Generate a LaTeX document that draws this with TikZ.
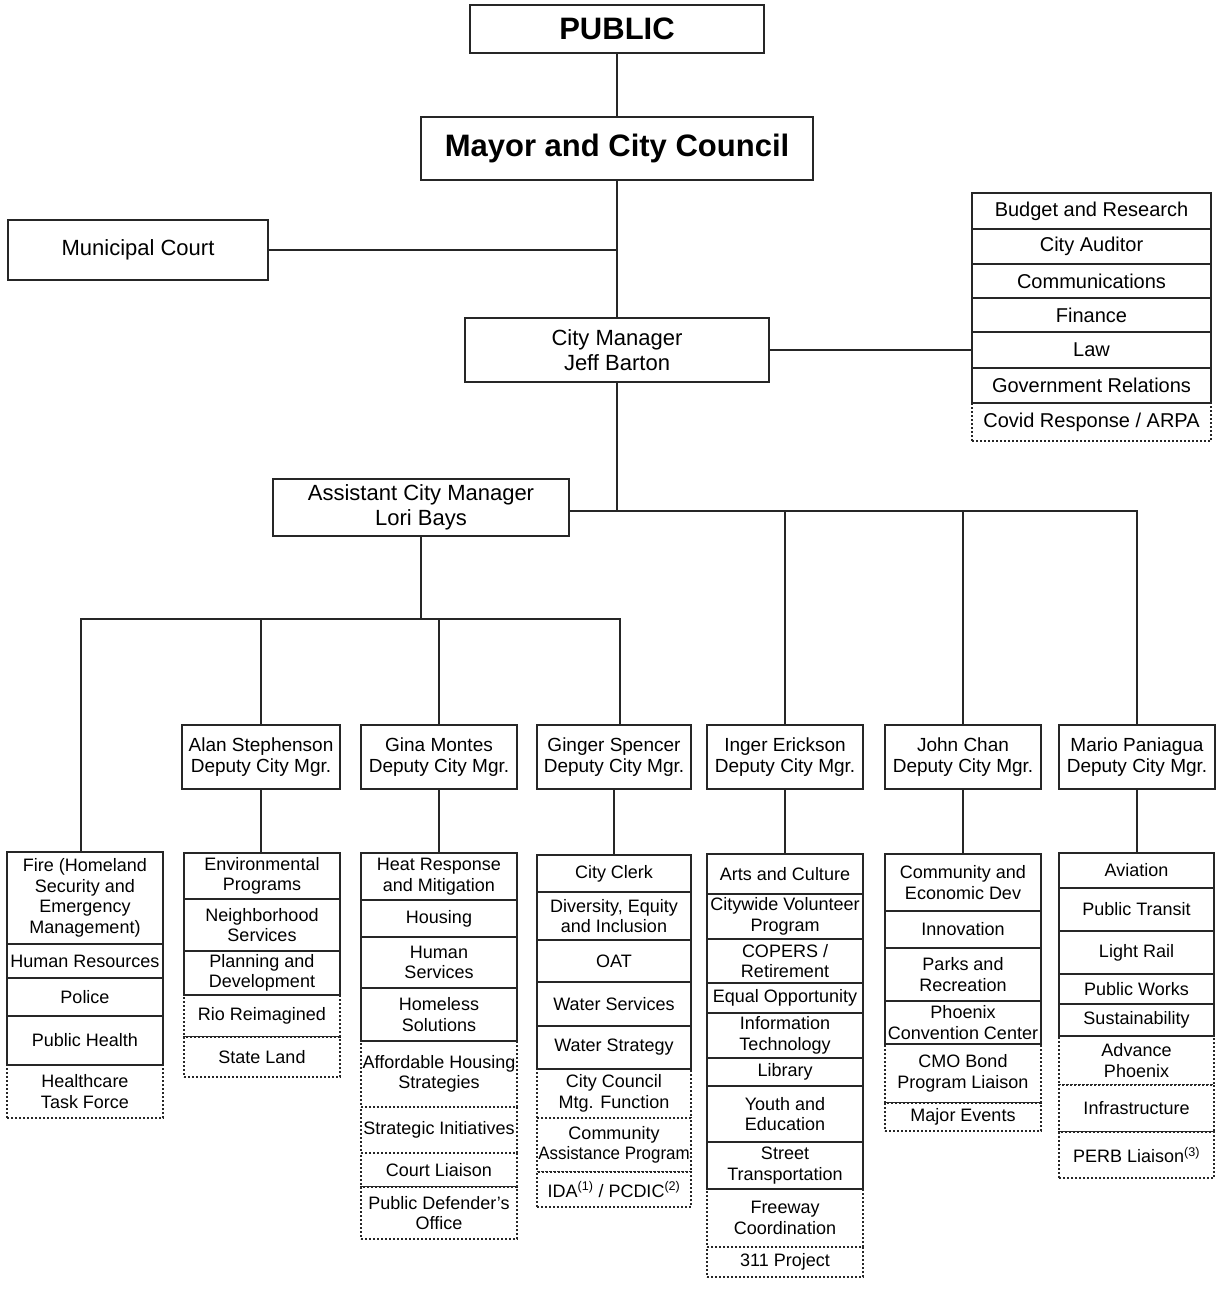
\documentclass[tikz,border=0pt]{standalone}
\usepackage{fontspec}
\setmainfont{Liberation Sans}
\usepackage{graphicx}
\newcommand\bx[7]{%
 \pgfmathsetmacro\bxcx{(#3+#5)/2}%
 \pgfmathsetmacro\bxcy{(#4+#6)/2}%
 \pgfmathsetmacro\bxw{#5-#3}%
 \pgfmathsetmacro\bxh{#6-#4}%
 \node[#1, minimum width=\bxw pt, minimum height=\bxh pt] (#2) at (\bxcx,\bxcy) {#7};}
\tikzset{
 box/.style={draw=black!85, line width=1.8pt, inner sep=0pt, align=center, fill=white,
   font=\fontsize{18}{20.5}\selectfont},
 dbox/.style={box, dash pattern=on 1.8pt off 2.2pt},
 topbox/.style={box, font=\fontsize{31}{36}\selectfont\bfseries},
 midbox/.style={box, font=\fontsize{22}{24.5}\selectfont},
 rbox/.style={box, font=\fontsize{20}{22}\selectfont},
 rdbox/.style={dbox, font=\fontsize{20}{22}\selectfont},
 dep/.style={box, font=\fontsize{19}{21}\selectfont},
 conn/.style={draw=black!85, line width=1.8pt}
}
\begin{document}
\begin{tikzpicture}[x=1pt,y=-1pt]
\useasboundingbox[fill=white] (0,0) rectangle (1225,1289);
% top
\bx{topbox}{pub}{470}{5}{764}{53}{PUBLIC}
\bx{topbox}{mayor}{421}{117}{813}{180}{Mayor and City Council}
\bx{midbox}{court}{8}{220}{268}{280}{Municipal Court}
\bx{midbox}{cm}{465}{318}{769}{382}{City Manager\\Jeff Barton}
\bx{midbox}{acm}{273}{479}{569}{536}{Assistant City Manager\\Lori Bays}
% right stack
\bx{rdbox}{covid}{972}{403}{1211}{441}{Covid Response / ARPA}
\bx{rbox}{budget}{972}{193}{1211}{229}{Budget and Research}
\bx{rbox}{auditor}{972}{229}{1211}{264}{City Auditor}
\bx{rbox}{comm}{972}{264}{1211}{298}{Communications}
\bx{rbox}{finance}{972}{298}{1211}{332}{Finance}
\bx{rbox}{law}{972}{332}{1211}{368}{Law}
\bx{rbox}{govrel}{972}{368}{1211}{403}{Government Relations}
% deputies
\bx{dep}{alan}{182}{725}{340}{789}{Alan Stephenson\\Deputy City Mgr.}
\bx{dep}{gina}{361}{725}{517}{789}{Gina Montes\\Deputy City Mgr.}
\bx{dep}{ginger}{537}{725}{691}{789}{Ginger Spencer\\Deputy City Mgr.}
\bx{dep}{inger}{707}{725}{863}{789}{Inger Erickson\\Deputy City Mgr.}
\bx{dep}{john}{885}{725}{1041}{789}{John Chan\\Deputy City Mgr.}
\bx{dep}{mario}{1059}{725}{1215}{789}{Mario Paniagua\\Deputy City Mgr.}
% fire column
\bx{dbox}{htf}{7}{1065}{163}{1118}{Healthcare\\Task Force}
\bx{box}{fire}{7}{852}{163}{944}{Fire (Homeland\\Security and\\Emergency\\Management)}
\bx{box}{hr}{7}{944}{163}{978}{Human Resources}
\bx{box}{police}{7}{978}{163}{1016}{Police}
\bx{box}{ph}{7}{1016}{163}{1065}{Public Health}
% alan column
\bx{dbox}{rio}{184}{995}{340}{1037}{Rio Reimagined}
\bx{dbox}{state}{184}{1037}{340}{1077}{State Land}
\bx{box}{env}{184}{853}{340}{899}{Environmental\\Programs}
\bx{box}{nbhd}{184}{899}{340}{951}{Neighborhood\\Services}
\bx{box}{plan}{184}{951}{340}{995}{Planning and\\Development}
% gina column
\bx{dbox}{afford}{361}{1041}{517}{1107}{Affordable Housing\\Strategies}
\bx{dbox}{strat}{361}{1107}{517}{1153}{Strategic Initiatives}
\bx{dbox}{courtl}{361}{1153}{517}{1187}{Court Liaison}
\bx{dbox}{pdo}{361}{1187}{517}{1239}{Public Defender’s\\Office}
\bx{box}{heat}{361}{853}{517}{900}{Heat Response\\and Mitigation}
\bx{box}{housing}{361}{900}{517}{937}{Housing}
\bx{box}{humsvc}{361}{937}{517}{988}{Human\\Services}
\bx{box}{homeless}{361}{988}{517}{1041}{Homeless\\Solutions}
% ginger column
\bx{dbox}{ccmf}{537}{1069}{691}{1118}{City Council\\Mtg. Function}
\bx{dbox}{cap}{537}{1118}{691}{1172}{Community\\\scalebox{0.94}[1]{Assistance Program}}
\bx{dbox}{ida}{537}{1172}{691}{1207}{IDA\textsuperscript{(1)} / PCDIC\textsuperscript{(2)}}
\bx{box}{clerk}{537}{855}{691}{892}{City Clerk}
\bx{box}{dei}{537}{892}{691}{940}{Diversity, Equity\\and Inclusion}
\bx{box}{oat}{537}{940}{691}{982}{OAT}
\bx{box}{water}{537}{982}{691}{1026}{Water Services}
\bx{box}{wstrat}{537}{1026}{691}{1069}{Water Strategy}
% inger column
\bx{dbox}{fwy}{707}{1189}{863}{1247}{Freeway\\Coordination}
\bx{dbox}{p311}{707}{1247}{863}{1277}{311 Project}
\bx{box}{arts}{707}{854}{863}{894}{Arts and Culture}
\bx{box}{cvp}{707}{894}{863}{939}{Citywide Volunteer\\Program}
\bx{box}{copers}{707}{939}{863}{983}{COPERS /\\Retirement}
\bx{box}{eo}{707}{983}{863}{1013}{Equal Opportunity}
\bx{box}{it}{707}{1013}{863}{1058}{Information\\Technology}
\bx{box}{lib}{707}{1058}{863}{1086}{Library}
\bx{box}{youth}{707}{1086}{863}{1142}{Youth and\\Education}
\bx{box}{street}{707}{1142}{863}{1189}{Street\\Transportation}
% john column
\bx{dbox}{cmo}{885}{1044}{1041}{1103}{CMO Bond\\Program Liaison}
\bx{dbox}{major}{885}{1103}{1041}{1131}{Major Events}
\bx{box}{ced}{885}{854}{1041}{911}{Community and\\Economic Dev}
\bx{box}{innov}{885}{911}{1041}{948}{Innovation}
\bx{box}{parks}{885}{948}{1041}{1001}{Parks and\\Recreation}
\bx{box}{pcc}{885}{1001}{1041}{1044}{Phoenix\\Convention Center}
% mario column
\bx{dbox}{advp}{1059}{1036}{1214}{1085}{Advance\\Phoenix}
\bx{dbox}{infra}{1059}{1085}{1214}{1132}{Infrastructure}
\bx{dbox}{perb}{1059}{1132}{1214}{1178}{PERB Liaison\textsuperscript{(3)}}
\bx{box}{aviation}{1059}{853}{1214}{888}{Aviation}
\bx{box}{transit}{1059}{888}{1214}{931}{Public Transit}
\bx{box}{lrail}{1059}{931}{1214}{974}{Light Rail}
\bx{box}{pw}{1059}{974}{1214}{1004}{Public Works}
\bx{box}{sust}{1059}{1004}{1214}{1036}{Sustainability}
% connectors
\coordinate (cj) at (617,250);
\coordinate (busR) at (1137,511);
\coordinate (lowL) at (81,619);
\coordinate (lowR) at (620,619);
\draw[conn] (pub.south) -- (mayor.north);
\draw[conn] (mayor.south) -- (cm.north);
\draw[conn] (court.east) -- (cj);
\draw[conn] (cm.east) -- (law.west);
\draw[conn] (cm.south) -- (cm.south |- busR);
\draw[conn] (acm.east |- busR) -- (busR) -- (busR |- mario.north);
\draw[conn] (inger.north |- busR) -- (inger.north);
\draw[conn] (john.north |- busR) -- (john.north);
\draw[conn] (acm.south) -- (acm.south |- lowL);
\draw[conn] (lowL |- fire.north) -- (lowL) -- (lowR) -- (lowR |- ginger.north);
\draw[conn] (alan.north |- lowL) -- (alan.north);
\draw[conn] (gina.north |- lowL) -- (gina.north);
\draw[conn] (alan.south) -- (alan.south |- env.north);
\draw[conn] (gina.south) -- (gina.south |- heat.north);
\draw[conn] (ginger.south) -- (ginger.south |- clerk.north);
\draw[conn] (inger.south) -- (inger.south |- arts.north);
\draw[conn] (john.south) -- (john.south |- ced.north);
\draw[conn] (mario.south) -- (mario.south |- aviation.north);
\end{tikzpicture}
\end{document}
